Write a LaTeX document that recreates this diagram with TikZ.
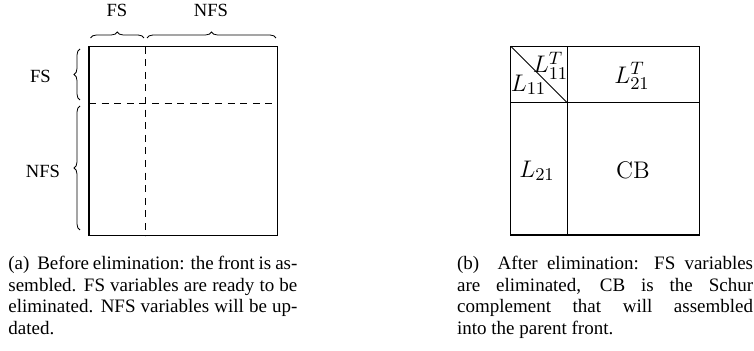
\documentclass[tikz,border=0pt]{standalone}
\usepackage[no-math]{fontspec}
\setmainfont{Liberation Serif}
\usetikzlibrary{positioning, calc, decorations.pathreplacing}
\tikzset{
  frontline/.style={line width=0.6pt},
  splitline/.style={line width=0.55pt, dash pattern=on 3.5pt off 2.8pt},
  sizebrace/.style={decorate, decoration={brace, amplitude=3pt}, line width=0.4pt},
  sizelabel/.style={font=\fontsize{9.3}{10}\selectfont, inner sep=0pt},
  blocklabel/.style={font=\fontsize{12.5}{14}\selectfont, inner sep=0pt},
  subcaption/.style={anchor=north west, align=justify, inner sep=0pt,
    font=\fontsize{9.5}{10.75}\selectfont}
}

\begin{document}
\begin{tikzpicture}[x=0.5pt, y=-0.5pt]
\useasboundingbox (0,0) rectangle (754,351);

% (a) front before elimination
\coordinate (A-nw) at (89,46.7);
\coordinate (A-se) at (277.7,235.7);
\coordinate (A-vsplit) at (145.3,46.7);
\coordinate (A-hsplit) at (89,103.3);

\draw[frontline] (A-nw) rectangle (A-se);
\draw[splitline] (A-vsplit) -- (A-vsplit |- A-se);
\draw[splitline] (A-hsplit) -- (A-hsplit -| A-se);

% column braces
\draw[sizebrace] (90.5,38) -- (144,38);
\draw[sizebrace] (147,38) -- (276,38);
\node[sizelabel] (colfs)  at (117,10) {FS};
\node[sizelabel] (colnfs) at (211,10) {NFS};

% row braces
\draw[sizebrace] (80,100) -- (80,49);
\draw[sizebrace] (80,230) -- (80,106);
\node[sizelabel] (rowfs)  at (40.5,76) {FS};
\node[sizelabel] (rownfs) at (43,171) {NFS};

% (b) front after elimination
\coordinate (B-nw) at (510.7,46.3);
\coordinate (B-se) at (699.3,235);
\coordinate (B-mid) at (567.3,102.7);

\draw[frontline] (B-nw) rectangle (B-se);
\draw[frontline] (B-mid |- B-nw) -- (B-mid |- B-se);
\draw[frontline] (B-mid -| B-nw) -- (B-mid -| B-se);
\draw[line width=0.45pt] (B-nw) -- (B-mid);

\node[blocklabel] (l11t) at (550.5,65.5) {$L_{11}^T$};
\node[blocklabel] (l11)  at (528.5,85) {$L_{11}$};
\node[blocklabel] (l21t) at (632,76) {$L_{21}^T$};
\node[blocklabel] (l21)  at (537,171) {$L_{21}$};
\node[blocklabel] (cb)   at (633,170) {$\mathrm{CB}$};

% captions
\node[subcaption, text width=144.5pt] (capa) at (8,256)
  {(a)~~Before elimination: the front is as-\linebreak sembled. FS variables are ready to be
   eliminated. NFS variables will be up-\linebreak dated.};
\node[subcaption, text width=148pt] (capb) at (456.7,256)
  {(b)~~After elimination: FS variables\linebreak are eliminated, CB is the Schur\linebreak
   complement that will assembled\linebreak into the parent front.};

\end{tikzpicture}
\end{document}
